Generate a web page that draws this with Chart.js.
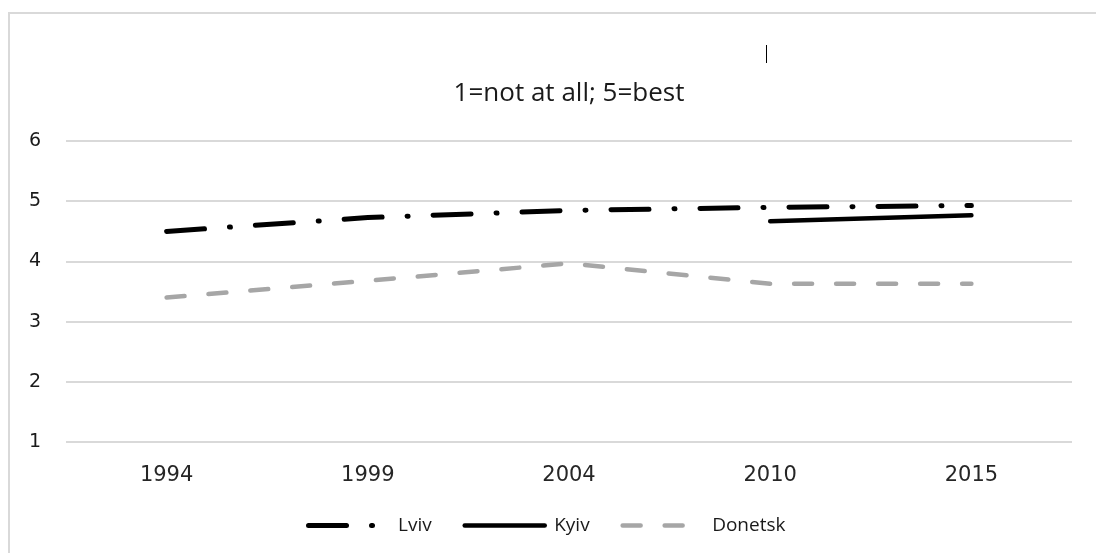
<!DOCTYPE html>
<html>
<head>
<meta charset="utf-8">
<script src="https://cdn.jsdelivr.net/npm/chart.js@4"></script>
<style>
  body { margin: 0; background: #fff; overflow: hidden; }
  #wrap {
    position: absolute; left: 8px; top: 12px; width: 1088px; height: 541px;
    border-left: 2px solid #d9d9d9; border-top: 2px solid #d9d9d9;
  }
  #mark { position: absolute; left: 766px; top: 45px; width: 1px; height: 18px; background: #000; }
</style>
</head>
<body>
<div id="wrap"><canvas id="chart" width="1086" height="539"></canvas></div>
<div id="mark"></div>
<script>
// Datos
const years = ['1994', '1999', '2004', '2010', '2015'];
const lviv = [4.5, 4.73, 4.85, 4.9, 4.93];
const kyiv = [null, null, null, 4.67, 4.77];
const donetsk = [3.4, 3.68, 3.97, 3.63, 3.63];
const yTicks = [1, 2, 3, 4, 5, 6];

const TEXT_FONT = '"Open Sans", sans-serif';
const TICK_FONT = '"DejaVu Sans", sans-serif';

const ctx = document.getElementById('chart').getContext('2d');
new Chart(ctx, {
    type: 'line',
    data: {
        labels: years,
        datasets: [
            { label: 'Lviv', data: lviv, borderColor: '#000', borderWidth: 5,
              borderDash: [38, 25, 1, 25], borderCapStyle: 'round', pointRadius: 0, tension: 0 },
            { label: 'Kyiv', data: kyiv, borderColor: '#000', borderWidth: 4.5,
              borderCapStyle: 'round', pointRadius: 0, tension: 0 },
            { label: 'Donetsk', data: donetsk, borderColor: '#a6a6a6', borderWidth: 4.5,
              borderDash: [18, 24], borderCapStyle: 'round', pointRadius: 0, tension: 0 }
        ]
    },
    options: {
        responsive: false,
        animation: false,
        layout: { padding: { left: 12, right: 24, top: 0, bottom: 8 } },
        scales: {
            x: {
                offset: true,
                grid: { display: false, drawTicks: false },
                border: { display: false },
                afterFit: function (s) { s.height = 41; },
                ticks: { color: '#262626', font: { family: TICK_FONT, size: 21 }, padding: 21 }
            },
            y: {
                min: 1, max: 6,
                afterBuildTicks: function (s) { s.ticks = yTicks.map(v => ({ value: v })); },
                afterFit: function (s) { s.width = 44; },
                grid: { color: '#d9d9d9', lineWidth: 2, drawTicks: false },
                border: { display: false },
                ticks: { color: '#1a1a1a', font: { family: TICK_FONT, size: 19 }, padding: 25 }
            }
        },
        plugins: {
            title: {
                display: true,
                text: '1=not at all; 5=best',
                fullSize: false,
                color: '#1a1a1a',
                font: { family: TEXT_FONT, size: 26, weight: 'normal' },
                padding: { top: 64, bottom: 32 }
            },
            legend: {
                position: 'bottom',
                labels: {
                    usePointStyle: true,
                    pointStyleWidth: 80,
                    color: '#1a1a1a',
                    font: { family: TEXT_FONT, size: 19 },
                    padding: 33,
                    generateLabels: function (chart) {
                        return chart.data.datasets.map((d, i) => ({
                            text: d.label,
                            pointStyle: 'line',
                            strokeStyle: d.borderColor,
                            fillStyle: d.borderColor,
                            lineWidth: d.borderWidth,
                            lineDash: d.borderDash || [],
                            lineCap: 'round',
                            datasetIndex: i,
                            fontColor: '#1a1a1a'
                        }));
                    }
                }
            },
            tooltip: { enabled: false }
        }
    }
});
</script>
</body>
</html>
